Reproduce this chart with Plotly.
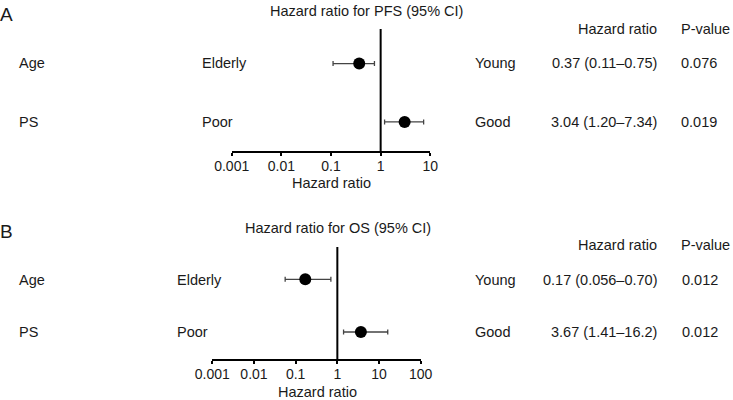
import plotly.graph_objects as go

# ---- data ----
variables = ["Age", "PS"]
low_groups = ["Elderly", "Poor"]
high_groups = ["Young", "Good"]

pfs_hr = [0.37, 3.04]
pfs_lo = [0.11, 1.20]
pfs_hi = [0.75, 7.34]
pfs_text = ["0.37 (0.11\u20130.75)", "3.04 (1.20\u20137.34)"]
pfs_p = ["0.076", "0.019"]

os_hr = [0.17, 3.67]
os_lo = [0.056, 1.41]
os_hi = [0.70, 16.2]
os_text = ["0.17 (0.056\u20130.70)", "3.67 (1.41\u201316.2)"]
os_p = ["0.012", "0.012"]

row_pos = [2, 1]  # Age row on top, PS row below

ticks_a = [0.001, 0.01, 0.1, 1, 10]
ticks_b = [0.001, 0.01, 0.1, 1, 10, 100]
tick_text_a = ["0.001", "0.01", "0.1", "1", "10"]
tick_text_b = ["0.001", "0.01", "0.1", "1", "10", "100"]

FONT = "Liberation Sans, Arial, Helvetica, sans-serif"
TXT = "#1a1a1a"
W, H = 733, 400

fig = go.Figure()


def add_panel(hr, lo, hi, xa, ya, yrange):
    fig.add_trace(go.Scatter(
        x=hr, y=row_pos, mode="markers", xaxis=xa, yaxis=ya,
        marker=dict(size=12, color="black"),
        error_x=dict(type="data", symmetric=False,
                     array=[h - m for h, m in zip(hi, hr)],
                     arrayminus=[m - l for m, l in zip(hr, lo)],
                     color="#444444", thickness=1.3, width=2.5),
        showlegend=False, hoverinfo="skip", cliponaxis=False))
    fig.add_trace(go.Scatter(
        x=[1, 1], y=list(yrange), mode="lines", xaxis=xa, yaxis=ya,
        line=dict(color="black", width=2), showlegend=False,
        hoverinfo="skip", cliponaxis=False))


add_panel(pfs_hr, pfs_lo, pfs_hi, "x", "y", (0.503, 2.592))
add_panel(os_hr, os_lo, os_hi, "x2", "y2", (0.488, 2.613))

xcommon = dict(type="log", showgrid=False, zeroline=False, showline=True,
               linecolor="black", linewidth=2, ticks="outside", ticklen=3,
               tickwidth=2, tickcolor="black", automargin=False,
               ticklabelstandoff=-2,
               tickfont=dict(family=FONT, size=14, color=TXT))
ycommon = dict(visible=False, showgrid=False, zeroline=False, automargin=False)

fig.update_layout(
    width=W, height=H,
    margin=dict(l=0, r=0, t=0, b=0, pad=0, autoexpand=False),
    paper_bgcolor="white", plot_bgcolor="white",
    xaxis=dict(domain=[231.7 / W, 430.3 / W], range=[-3, 1],
               tickvals=ticks_a, ticktext=tick_text_a, anchor="y", **xcommon),
    yaxis=dict(domain=[1 - 151 / H, 1 - 29 / H], range=[0.503, 2.592],
               anchor="x", **ycommon),
    xaxis2=dict(domain=[212.3 / W, 420.7 / W], range=[-3, 2],
                tickvals=ticks_b, ticktext=tick_text_b, anchor="y2", **xcommon),
    yaxis2=dict(domain=[1 - 359 / H, 1 - 247 / H], range=[0.488, 2.613],
                anchor="x2", **ycommon),
)


def txt(x, y, s, anchor="left", size=14.5):
    shift = {"left": -2, "right": 2, "center": 0}[anchor]
    fig.add_annotation(x=(x + shift) / W, y=1 - y / H, xref="paper", yref="paper",
                       text=s, showarrow=False, xanchor=anchor, yanchor="middle",
                       font=dict(family=FONT, size=size, color=TXT))


# Panel A
txt(0, 14, "A", size=19)
txt(366, 11, "Hazard ratio for PFS (95% CI)", anchor="center")
txt(331, 183, "Hazard ratio", anchor="center")
txt(657, 29, "Hazard ratio", anchor="right")
txt(705, 29, "P-value", anchor="center")
rows_a = [63, 122]
for i in range(2):
    txt(19, rows_a[i], variables[i])
    txt(202, rows_a[i], low_groups[i])
    txt(475, rows_a[i], high_groups[i])
    txt(657, rows_a[i], pfs_text[i], anchor="right")
    txt(699, rows_a[i], pfs_p[i], anchor="center")

# Panel B
txt(0, 232, "B", size=19)
txt(338, 228, "Hazard ratio for OS (95% CI)", anchor="center")
txt(317, 392, "Hazard ratio", anchor="center")
txt(657, 245, "Hazard ratio", anchor="right")
txt(705, 245, "P-value", anchor="center")
rows_b = [280, 332]
for i in range(2):
    txt(19, rows_b[i], variables[i])
    txt(177, rows_b[i], low_groups[i])
    txt(475, rows_b[i], high_groups[i])
    txt(657, rows_b[i], os_text[i], anchor="right")
    txt(700, rows_b[i], os_p[i], anchor="center")

fig.write_html("out.html", config={"displayModeBar": False},
               post_script="document.body.style.margin='0';")
